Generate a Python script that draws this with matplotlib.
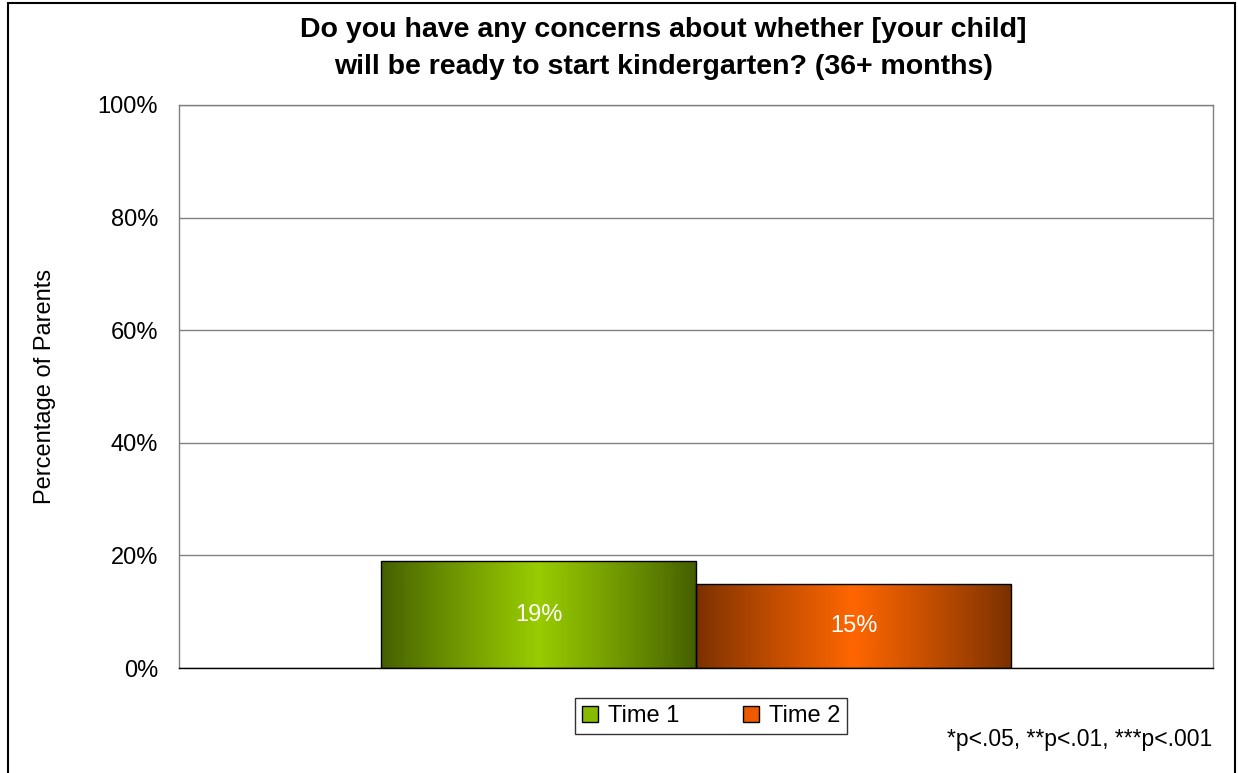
import numpy as np
import matplotlib.pyplot as plt
from matplotlib.patches import Patch, Rectangle
from matplotlib.colors import to_rgb

plt.rcParams['font.family'] = ['Liberation Sans', 'DejaVu Sans']

# Données
series = ["Time 1", "Time 2"]
values = [19, 15]
labels = ["19%", "15%"]
yticks = [0, 20, 40, 60, 80, 100]
ytick_labels = ["0%", "20%", "40%", "60%", "80%", "100%"]

# couleurs (bord sombre, centre clair)
edge_colors = ["#445E00", "#7A3000"]
mid_colors = ["#99CC00", "#FF6600"]
legend_colors = ["#88BB00", "#EE5A00"]

fig = plt.figure(figsize=(12.38, 7.73), dpi=100)
ax = fig.add_axes([0.1446, 0.1358, 0.8352, 0.7284])

width = 0.3046
offsets = [-width / 2, width / 2]
bars = ax.bar(offsets, values, width=width, color='none', edgecolor='black',
              linewidth=1.0, zorder=3)

# Remplissage en dégradé horizontal
t = np.linspace(0, 1, 256)
prof = 1 - np.abs(2 * t - 1)
prof = prof ** 0.9
for bar, c0, c1 in zip(bars, edge_colors, mid_colors):
    a = np.array(to_rgb(c0))
    b = np.array(to_rgb(c1))
    grad = a[None, :] + (b - a)[None, :] * prof[:, None]
    img = np.tile(grad[None, :, :], (2, 1, 1))
    x0, y0 = bar.get_x(), bar.get_y()
    im = ax.imshow(img, extent=[x0, x0 + bar.get_width(), y0, y0 + bar.get_height()],
                   aspect='auto', zorder=2, interpolation='bilinear')
    im.set_clip_path(bar)

for bar, lab in zip(bars, labels):
    ax.text(bar.get_x() + bar.get_width() / 2, bar.get_height() / 2, lab,
            ha='center', va='center', color='white', fontsize=17, zorder=4)

ax.set_xlim(-0.5, 0.5)
ax.set_ylim(0, 100)
ax.set_yticks(yticks)
ax.set_yticklabels(ytick_labels, fontsize=17)
ax.set_xticks([])
ax.tick_params(axis='y', length=0, pad=15)
ax.yaxis.grid(True, color='#808080', linewidth=1.0, zorder=0)
ax.set_axisbelow(True)
for s in ax.spines.values():
    s.set_color('#808080')
    s.set_linewidth(1.0)
ax.spines['bottom'].set_color('black')
ax.set_ylabel("Percentage of Parents", fontsize=17, labelpad=30)

fig.text(0.536, 0.937, "Do you have any concerns about whether [your child]\nwill be ready to start kindergarten? (36+ months)",
         ha='center', va='center', fontsize=20.5, fontweight='bold', linespacing=1.55)

handles = [Patch(facecolor=c, edgecolor='black', linewidth=1.0) for c in legend_colors]
leg = fig.legend(handles, series, loc='center', bbox_to_anchor=(0.5743, 0.0737),
                 ncol=2, fontsize=17, frameon=True, fancybox=False, edgecolor='black',
                 handlelength=0.7, handleheight=0.7, handletextpad=0.4, columnspacing=2.7,
                 borderpad=0.3, borderaxespad=0)
leg.get_frame().set_linewidth(1.0)

fig.text(0.979, 0.043, "*p<.05, **p<.01, ***p<.001", ha='right', va='center', fontsize=16.5)

# cadre du graphique
fig.patches.append(Rectangle((8 / 1238, -0.01), (1235 - 8) / 1238, 1 - 3 / 773 + 0.01,
                             transform=fig.transFigure, fill=False, edgecolor='black',
                             linewidth=1.5))

fig.savefig("out.png", dpi=100)
